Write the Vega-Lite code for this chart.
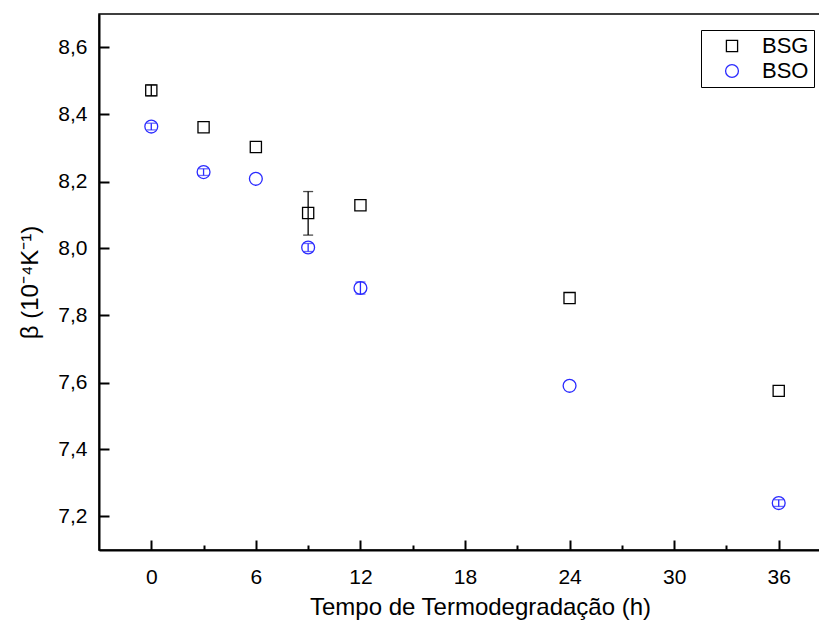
{
  "$schema": "https://vega.github.io/schema/vega-lite/v6.json",
  "width": 732,
  "height": 536,
  "autosize": "none",
  "padding": {"left": 99, "top": 14, "right": 0, "bottom": 75},
  "background": "white",
  "config": {
    "font": "Liberation Sans",
    "view": {"stroke": "black", "strokeWidth": 1.5}
  },
  "data": {
    "values": [
      {"series": "BSG", "t": 0, "beta": 8.472, "lo": 8.456, "hi": 8.488},
      {"series": "BSG", "t": 3, "beta": 8.362},
      {"series": "BSG", "t": 6, "beta": 8.303},
      {"series": "BSG", "t": 9, "beta": 8.106, "lo": 8.040, "hi": 8.170},
      {"series": "BSG", "t": 12, "beta": 8.129},
      {"series": "BSG", "t": 24, "beta": 7.852},
      {"series": "BSG", "t": 36, "beta": 7.575},
      {"series": "BSO", "t": 0, "beta": 8.364, "lo": 8.354, "hi": 8.374},
      {"series": "BSO", "t": 3, "beta": 8.228, "lo": 8.218, "hi": 8.238},
      {"series": "BSO", "t": 6, "beta": 8.208},
      {"series": "BSO", "t": 9, "beta": 8.003, "lo": 7.991, "hi": 8.015},
      {"series": "BSO", "t": 12, "beta": 7.882, "lo": 7.864, "hi": 7.900},
      {"series": "BSO", "t": 24, "beta": 7.590},
      {"series": "BSO", "t": 36, "beta": 7.240, "lo": 7.230, "hi": 7.250}
    ]
  },
  "encoding": {
    "x": {
      "field": "t",
      "type": "quantitative",
      "scale": {"domain": [-3, 39], "nice": false, "zero": false},
      "axis": {
        "title": "Tempo de Termodegradação (h)",
        "values": [0, 3, 6, 9, 12, 15, 18, 21, 24, 27, 30, 33, 36],
        "labelExpr": "datum.value % 6 === 0 ? datum.label : ''",
        "tickSize": {"condition": {"test": "datum.value % 6 === 0", "value": -10}, "value": -5},
        "tickColor": "black",
        "tickWidth": 2,
        "domainColor": "black",
        "domainWidth": 2,
        "grid": false,
        "labelFont": "Liberation Sans",
        "labelFontSize": 21,
        "labelColor": "black",
        "labelPadding": 26,
        "labelOverlap": false,
        "labelFlush": false,
        "titleFont": "Liberation Sans",
        "titleFontSize": 24,
        "titleFontWeight": "normal",
        "titleColor": "black",
        "titlePadding": 3,
        "titleX": 381
      }
    }
  },
  "layer": [
    {
      "transform": [{"filter": "isValid(datum.lo) && datum.series === 'BSG'"}],
      "mark": {"type": "errorbar", "ticks": {"size": 10}, "thickness": 1.3, "color": "black"},
      "encoding": {
        "y": {
          "field": "lo",
          "type": "quantitative",
          "title": "β (10⁻⁴K⁻¹)",
          "scale": {"domain": [7.1, 8.7], "nice": false, "zero": false}
        },
        "y2": {"field": "hi"}
      }
    },
    {
      "transform": [{"filter": "isValid(datum.lo) && datum.series === 'BSO'"}],
      "mark": {"type": "errorbar", "ticks": {"size": 10}, "thickness": 1.3, "color": "#2a2aff"},
      "encoding": {
        "y": {
          "field": "lo",
          "type": "quantitative",
          "title": "β (10⁻⁴K⁻¹)",
          "scale": {"domain": [7.1, 8.7], "nice": false, "zero": false}
        },
        "y2": {"field": "hi"}
      }
    },
    {
      "mark": {"type": "point", "filled": false, "strokeWidth": 1.3, "opacity": 1},
      "encoding": {
        "y": {
          "field": "beta",
          "type": "quantitative",
          "title": "β (10⁻⁴K⁻¹)",
          "scale": {"domain": [7.1, 8.7], "nice": false, "zero": false},
          "axis": {
            "values": [7.2, 7.3, 7.4, 7.5, 7.6, 7.7, 7.8, 7.9, 8.0, 8.1, 8.2, 8.3, 8.4, 8.5, 8.6],
            "labelExpr": "round(datum.value*10) % 2 === 0 ? replace(format(datum.value, '.1f'), '.', ',') : ''",
            "tickSize": {"condition": {"test": "round(datum.value*10) % 2 === 0", "value": -10}, "value": -5},
            "tickColor": "black",
            "tickWidth": 2,
            "domainColor": "black",
            "domainWidth": 2,
            "grid": false,
            "labelFont": "Liberation Sans",
            "labelFontSize": 21,
            "labelColor": "black",
            "labelPadding": 22,
            "labelOverlap": false,
            "labelFlush": false,
            "titleFont": "Liberation Sans",
            "titleFontSize": 24,
            "titleFontWeight": "normal",
            "titleColor": "black",
            "titleX": -57,
            "titleY": 268
          }
        },
        "color": {
          "field": "series",
          "type": "nominal",
          "title": null,
          "scale": {"domain": ["BSG", "BSO"], "range": ["black", "#2a2aff"]},
          "legend": {
            "title": null,
            "orient": "none",
            "legendX": 602,
            "legendY": 16,
            "strokeColor": "black",
            "fillColor": "white",
            "padding": 5,
            "labelFont": "Liberation Sans",
            "labelFontSize": 22,
            "labelColor": "black",
            "symbolSize": 140,
            "symbolStrokeWidth": 1.3,
            "symbolOffset": 15,
            "labelOffset": 19,
            "rowPadding": 3
          }
        },
        "shape": {
          "field": "series",
          "type": "nominal",
          "title": null,
          "scale": {"domain": ["BSG", "BSO"], "range": ["square", "circle"]},
          "legend": {
            "title": null,
            "orient": "none",
            "legendX": 602,
            "legendY": 16,
            "strokeColor": "black",
            "fillColor": "white",
            "padding": 5,
            "labelFont": "Liberation Sans",
            "labelFontSize": 22,
            "labelColor": "black",
            "symbolSize": 140,
            "symbolStrokeWidth": 1.3,
            "symbolOffset": 15,
            "labelOffset": 19,
            "rowPadding": 3
          }
        },
        "size": {
          "field": "series",
          "type": "nominal",
          "scale": {"domain": ["BSG", "BSO"], "range": [125, 165]},
          "legend": null
        }
      }
    }
  ]
}
